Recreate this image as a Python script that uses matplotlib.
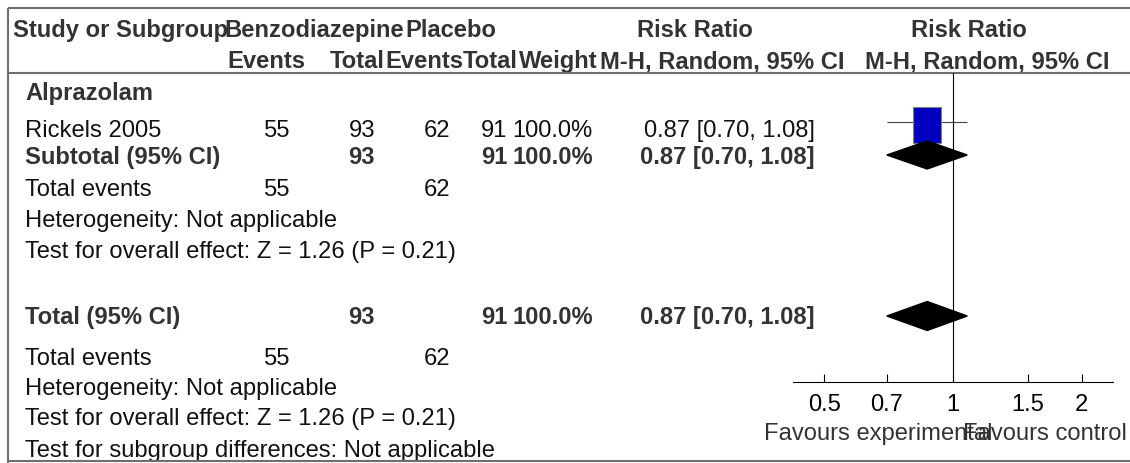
import matplotlib
matplotlib.use("Agg")
import matplotlib.pyplot as plt
from matplotlib.ticker import FixedLocator, FixedFormatter, NullLocator

plt.rcParams["font.family"] = ["Liberation Sans", "DejaVu Sans"]

# ---------------------------------------------------------------------------
# Data
# ---------------------------------------------------------------------------
subgroup_name = "Alprazolam"
study_names = ["Rickels 2005"]
exp_events = [55]
exp_totals = [93]
ctrl_events = [62]
ctrl_totals = [91]
study_weights = [100.0]
study_rr = [0.87]
study_lo = [0.70]
study_hi = [1.08]

subtotal_totals = [93, 91]
subtotal_events = [55, 62]
subtotal_weight = 100.0
subtotal_est = [0.87, 0.70, 1.08]

total_totals = [93, 91]
total_events = [55, 62]
total_weight = 100.0
total_est = [0.87, 0.70, 1.08]

heterogeneity = "Heterogeneity: Not applicable"
overall_effect = "Test for overall effect: Z = 1.26 (P = 0.21)"
subgroup_diff = "Test for subgroup differences: Not applicable"

axis_ticks = [0.5, 0.7, 1, 1.5, 2]
axis_tick_labels = ["0.5", "0.7", "1", "1.5", "2"]
axis_range = [0.422, 2.37]
favours = ["Favours experimental", "Favours control"]

# ---------------------------------------------------------------------------
# Layout (pixel units of the 1130x463 canvas)
# ---------------------------------------------------------------------------
W, H = 1130, 463
FS = 17.1
BOLD_C = "#333333"
TXT_C = "#111111"
LINE_C = "#6e6e6e"

X_STUDY = 25
X_EXP_EV, X_EXP_N = 290, 375
X_CTL_EV, X_CTL_N = 450, 507
X_WEIGHT, X_RR = 593, 815

Y_HEAD1, Y_HEAD2 = 37, 68
Y_TOP, Y_HEADLINE, Y_BOTTOM = 8, 73, 461
Y_AXIS = 382
PLOT_X0, PLOT_X1 = 793, 1113

fig = plt.figure(figsize=(W / 100, H / 100), dpi=100)
ax = fig.add_axes([0, 0, 1, 1])
ax.set_xlim(0, W)
ax.set_ylim(H, 0)
ax.axis("off")


def txt(x, y, s, ha="left", bold=False, color=None):
    ax.text(x, y, s, ha=ha, va="baseline", fontsize=FS,
            fontweight="bold" if bold else "normal",
            color=color or (BOLD_C if bold else TXT_C))


# --- frame lines ---
ax.hlines([Y_TOP, Y_HEADLINE, Y_BOTTOM], 8, W, color=LINE_C, lw=1.5, zorder=5)
ax.vlines(8, Y_TOP, H, color=LINE_C, lw=1.5, zorder=5)

# --- header ---
txt(13, Y_HEAD1, "Study or Subgroup", bold=True)
txt(224, Y_HEAD1, "Benzodiazepine", bold=True)
txt(405, Y_HEAD1, "Placebo", bold=True)
txt(637, Y_HEAD1, "Risk Ratio", bold=True)
txt(969, Y_HEAD1, "Risk Ratio", ha="center", bold=True)
txt(305, Y_HEAD2, "Events", ha="right", bold=True)
txt(385, Y_HEAD2, "Total", ha="right", bold=True)
txt(463, Y_HEAD2, "Events", ha="right", bold=True)
txt(518, Y_HEAD2, "Total", ha="right", bold=True)
txt(598, Y_HEAD2, "Weight", ha="right", bold=True)
txt(845, Y_HEAD2, "M-H, Random, 95% CI", ha="right", bold=True)
txt(987, Y_HEAD2, "M-H, Random, 95% CI", ha="center", bold=True)

# --- subgroup block ---
txt(X_STUDY, 100, subgroup_name, bold=True)
study_y = [137]
for i, name in enumerate(study_names):
    y = study_y[i]
    txt(X_STUDY, y, name)
    txt(X_EXP_EV, y, str(exp_events[i]), ha="right")
    txt(X_EXP_N, y, str(exp_totals[i]), ha="right")
    txt(X_CTL_EV, y, str(ctrl_events[i]), ha="right")
    txt(X_CTL_N, y, str(ctrl_totals[i]), ha="right")
    txt(X_WEIGHT, y, f"{study_weights[i]:.1f}%", ha="right")
    txt(X_RR, y, f"{study_rr[i]:.2f} [{study_lo[i]:.2f}, {study_hi[i]:.2f}]", ha="right")

y = 164
txt(X_STUDY, y, "Subtotal (95% CI)", bold=True)
txt(X_EXP_N, y, str(subtotal_totals[0]), ha="right", bold=True)
txt(X_CTL_N, y, str(subtotal_totals[1]), ha="right", bold=True)
txt(X_WEIGHT, y, f"{subtotal_weight:.1f}%", ha="right", bold=True)
txt(X_RR, y, f"{subtotal_est[0]:.2f} [{subtotal_est[1]:.2f}, {subtotal_est[2]:.2f}]",
    ha="right", bold=True)
txt(X_STUDY, 196, "Total events")
txt(X_EXP_EV, 196, str(subtotal_events[0]), ha="right")
txt(X_CTL_EV, 196, str(subtotal_events[1]), ha="right")
txt(X_STUDY, 227, heterogeneity)
txt(X_STUDY, 258, overall_effect)

# --- overall block ---
y = 324
txt(X_STUDY, y, "Total (95% CI)", bold=True)
txt(X_EXP_N, y, str(total_totals[0]), ha="right", bold=True)
txt(X_CTL_N, y, str(total_totals[1]), ha="right", bold=True)
txt(X_WEIGHT, y, f"{total_weight:.1f}%", ha="right", bold=True)
txt(X_RR, y, f"{total_est[0]:.2f} [{total_est[1]:.2f}, {total_est[2]:.2f}]",
    ha="right", bold=True)
txt(X_STUDY, 365, "Total events")
txt(X_EXP_EV, 365, str(total_events[0]), ha="right")
txt(X_CTL_EV, 365, str(total_events[1]), ha="right")
txt(X_STUDY, 395, heterogeneity)
txt(X_STUDY, 425, overall_effect)
txt(X_STUDY, 457, subgroup_diff)

# --- favours labels ---
txt(993, 440, favours[0], ha="right", color="#333333")
txt(963, 440, favours[1], ha="left", color="#333333")

# ---------------------------------------------------------------------------
# Forest plot axes (log scale)
# ---------------------------------------------------------------------------
axf = fig.add_axes([PLOT_X0 / W, 0, (PLOT_X1 - PLOT_X0) / W, 1])
axf.set_xscale("log")
axf.set_xlim(*axis_range)
axf.set_ylim(H, 0)
axf.patch.set_alpha(0)
for side in ["top", "left", "right"]:
    axf.spines[side].set_visible(False)
axf.spines["bottom"].set_position(("data", Y_AXIS))
axf.spines["bottom"].set_linewidth(0.8)
axf.xaxis.set_major_locator(FixedLocator(axis_ticks))
axf.xaxis.set_major_formatter(FixedFormatter(axis_tick_labels))
axf.xaxis.set_minor_locator(NullLocator())
axf.tick_params(axis="x", direction="in", length=6, width=0.8,
                labelsize=FS, pad=8.4, colors="black")
axf.set_yticks([])

# line of no effect
axf.vlines(1, Y_HEADLINE, Y_AXIS, color="black", lw=0.8, zorder=2)

# study CI + box
box_h = 26.6
box_marker = [(-28 / 37, -1), (28 / 37, -1), (28 / 37, 1), (-28 / 37, 1), (-28 / 37, -1)]
for i in range(len(study_names)):
    axf.hlines(122, study_lo[i], study_hi[i], color="#444444", lw=0.8, zorder=3)
    axf.plot(study_rr[i], 124.5, marker=box_marker,
             markersize=box_h * (study_weights[i] / 100) ** 0.5,
             markerfacecolor="#0000c0", markeredgecolor="#808080",
             markeredgewidth=0.8, linestyle="None", zorder=4)


def diamond(est, yc, half_h=14):
    axf.fill([est[1], est[0], est[2], est[0]],
             [yc, yc - half_h, yc, yc + half_h], color="black", zorder=4)


diamond(subtotal_est, 155)
diamond(total_est, 316, 14.5)

fig.savefig("out.png", dpi=100)
